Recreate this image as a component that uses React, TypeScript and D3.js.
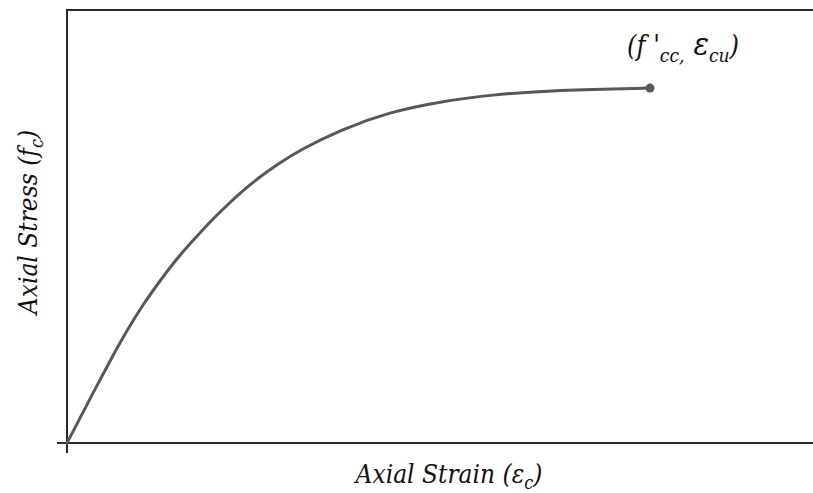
import React from "react";
import * as d3 from "d3";

// Normalised strain (ε / εcu) and stress (fc / f'cc) along the confined-concrete curve
const strain = [0, 0.045, 0.074, 0.102, 0.131, 0.16, 0.188, 0.217, 0.245, 0.274, 0.302, 0.331, 0.36, 0.4, 0.468, 0.554, 0.64, 0.726, 0.84, 1];
const stress = [0, 0.142, 0.232, 0.315, 0.392, 0.458, 0.519, 0.572, 0.623, 0.669, 0.712, 0.75, 0.784, 0.826, 0.882, 0.933, 0.962, 0.981, 0.995, 1];

const xLabel = "Axial Strain (";
const yLabel = "Axial Stress (";

const W = 813;
const H = 493;
const left = 67;
const top = 10;
const right = 813;
const bottom = 443;

export default function App() {
  const x = d3.scaleLinear().domain([0, 1.2796]).range([left, right]);
  const y = d3.scaleLinear().domain([0, 1.22]).range([bottom, top]);

  const pts: [number, number][] = strain.map((s, i) => [s, stress[i]]);
  const line = d3
    .line<[number, number]>()
    .x((d) => x(d[0]))
    .y((d) => y(d[1]))
    .curve(d3.curveBasis);

  const last = pts[pts.length - 1];
  const font = "DejaVu Serif Condensed, DejaVu Serif, serif";
  const axisColor = "#2a2a2a";

  return (
    <svg width={W} height={H} style={{ position: "absolute", left: 0, top: 0, display: "block" }}>
      <rect width={W} height={H} fill="#fff" />
      {/* frame */}
      <line x1={left - 1} x2={right} y1={top} y2={top} stroke={axisColor} strokeWidth={2} />
      <line x1={left} x2={left} y1={top - 1} y2={bottom + 10} stroke={axisColor} strokeWidth={2} />
      <line x1={left - 10} x2={right} y1={bottom} y2={bottom} stroke={axisColor} strokeWidth={2} />

      {/* stress-strain curve */}
      <path d={line(pts) || ""} fill="none" stroke="#585858" strokeWidth={3} strokeLinecap="round" />
      <circle cx={x(last[0])} cy={y(last[1])} r={4.5} fill="#585858" />

      {/* peak annotation */}
      <text x={x(last[0]) - 23} y={y(last[1]) - 33} fontFamily={font} fontStyle="italic" fontSize={27} fill="#111">
        (f '
        <tspan fontSize={19} dy={7}>cc,</tspan>
        <tspan dy={-7} fontSize={32}> ε</tspan>
        <tspan fontSize={19} dy={7}>cu</tspan>
        <tspan dy={-7}>)</tspan>
      </text>

      {/* axis titles */}
      <text x={449} y={483} textAnchor="middle" fontFamily={font} fontStyle="italic" fontSize={26} fill="#111">
        {xLabel}ε<tspan fontSize={18} dy={6}>c</tspan>
        <tspan dy={-6}>)</tspan>
      </text>
      <text
        transform={`translate(${37}, ${222}) rotate(-90)`}
        textAnchor="middle"
        fontFamily={font}
        fontStyle="italic"
        fontSize={26}
        fill="#111"
      >
        {yLabel}f<tspan fontSize={18} dy={6}>c</tspan>
        <tspan dy={-6}>)</tspan>
      </text>
    </svg>
  );
}
